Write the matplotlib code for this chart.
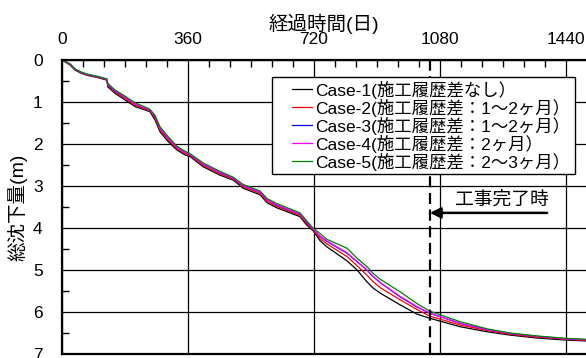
import matplotlib.pyplot as plt
from matplotlib.ticker import MultipleLocator
from matplotlib.legend_handler import HandlerLine2D

plt.rcParams['font.family'] = ['Liberation Sans', 'Noto Sans CJK JP', 'DejaVu Sans']

# elapsed days
days = [0, 23, 37, 56, 74, 103, 128, 131, 151, 180, 209, 251, 266, 280, 303,
        328, 351, 366, 403, 451, 489, 517, 566, 586, 614, 680, 699,
        717, 737, 757, 814, 843, 871, 889, 909, 966, 1014, 1051, 1137, 1214,
        1280, 1357, 1443, 1500]

# total settlement (m) per case
case1 = [0, 0.12, 0.24, 0.32, 0.37, 0.42, 0.48, 0.64, 0.79, 0.95, 1.11, 1.23, 1.43, 1.71, 1.94,
         2.14, 2.26, 2.30, 2.54, 2.74, 2.86, 3.05, 3.21, 3.40, 3.52, 3.73, 3.93,
         4.06, 4.30, 4.45, 4.78, 5.00, 5.28, 5.43, 5.55, 5.83, 6.05, 6.15, 6.35, 6.47,
         6.55, 6.62, 6.67, 6.69]
case2 = [0, 0.11, 0.23, 0.31, 0.36, 0.41, 0.47, 0.61, 0.76, 0.92, 1.08, 1.21, 1.39, 1.67, 1.90,
         2.11, 2.23, 2.28, 2.51, 2.71, 2.84, 3.02, 3.18, 3.37, 3.49, 3.70, 3.90,
         4.04, 4.25, 4.38, 4.68, 4.90, 5.12, 5.28, 5.42, 5.71, 5.94, 6.10, 6.31, 6.44,
         6.53, 6.60, 6.65, 6.68]
case3 = [0, 0.10, 0.22, 0.30, 0.35, 0.40, 0.46, 0.59, 0.74, 0.89, 1.05, 1.19, 1.36, 1.63, 1.86,
         2.08, 2.20, 2.26, 2.48, 2.68, 2.82, 2.99, 3.15, 3.33, 3.46, 3.67, 3.87,
         4.02, 4.20, 4.32, 4.60, 4.80, 5.00, 5.16, 5.30, 5.64, 5.88, 6.03, 6.27, 6.42,
         6.51, 6.58, 6.64, 6.66]
case4 = [0, 0.10, 0.22, 0.30, 0.35, 0.40, 0.46, 0.58, 0.73, 0.89, 1.05, 1.19, 1.35, 1.63, 1.86,
         2.08, 2.20, 2.25, 2.48, 2.68, 2.81, 2.99, 3.15, 3.33, 3.45, 3.67, 3.86,
         4.02, 4.19, 4.31, 4.59, 4.80, 5.00, 5.15, 5.30, 5.63, 5.87, 6.03, 6.27, 6.42,
         6.51, 6.58, 6.64, 6.66]
case5 = [0, 0.09, 0.21, 0.29, 0.34, 0.39, 0.45, 0.56, 0.71, 0.86, 1.02, 1.17, 1.32, 1.59, 1.82,
         2.05, 2.17, 2.23, 2.45, 2.65, 2.79, 2.96, 3.12, 3.30, 3.42, 3.64, 3.83,
         4.00, 4.13, 4.27, 4.48, 4.72, 4.92, 5.08, 5.22, 5.52, 5.80, 5.98, 6.23, 6.40,
         6.50, 6.57, 6.63, 6.65]

labels = ["Case-1(施工履歴差なし）",
          "Case-2(施工履歴差：1～2ヶ月）",
          "Case-3(施工履歴差：1～2ヶ月）",
          "Case-4(施工履歴差：2ヶ月）",
          "Case-5(施工履歴差：2～3ヶ月）"]
colors = ["black", "#ff0000", "#0000ff", "#ff00ff", "#008000"]

completion_day = 1051

fig = plt.figure(figsize=(5.86, 3.58), dpi=100)
ax = fig.add_axes([62 / 586, 4 / 358, 524 / 586, 294 / 358])

for vals, lab, c in zip([case1, case2, case3, case4, case5], labels, colors):
    ax.plot(days, vals, color=c, lw=0.9, label=lab)

ax.set_xlim(0, 1497)
ax.set_ylim(7, 0)

# axis on top
ax.xaxis.tick_top()
ax.xaxis.set_label_position('top')
ax.set_xticks([0, 360, 720, 1080, 1440])
ax.xaxis.set_minor_locator(MultipleLocator(60))
ax.set_yticks(range(8))
ax.yaxis.set_minor_locator(MultipleLocator(0.5))
ax.tick_params(which='major', length=0, labelsize=12.5)
ax.tick_params(axis='x', which='major', pad=9)
ax.tick_params(axis='y', which='major', pad=14)
ax.tick_params(which='minor', direction='in', length=5, width=1, top=True, left=True,
               bottom=False, right=False)

ax.grid(True, which='major', color='black', lw=0.9)
for s in ['left', 'top', 'bottom']:
    ax.spines[s].set_linewidth(1.6)
ax.spines['right'].set_visible(False)

ax.set_xlabel("経過時間(日)", fontsize=14, labelpad=2)
ax.set_ylabel("総沈下量(m)", fontsize=14, labelpad=4)

# construction completion
ax.axvline(completion_day, color='black', lw=1.6, ls=(0, (5, 2.5)), zorder=5)
ax.annotate('', xy=(completion_day, 3.64), xytext=(1386, 3.64),
            arrowprops=dict(arrowstyle='-|>', color='black', lw=1.8,
                            mutation_scale=16, shrinkA=0, shrinkB=0))
ax.text(1257, 3.32, "工事完了時", fontsize=13.5, ha='center', va='center')

leg = ax.legend(loc='upper left', bbox_to_anchor=(0.401, 0.616, 0.578, 0.326),
                mode='expand', fontsize=12.5,
                frameon=True, fancybox=False, framealpha=1, edgecolor='black',
                handlelength=2.1, handletextpad=0.15, labelspacing=0.0,
                borderpad=0.2, borderaxespad=0,
                handler_map={plt.Line2D: HandlerLine2D(xpad=0.95)})
leg.get_frame().set_linewidth(1.0)

fig.savefig('out.png', dpi=100)
